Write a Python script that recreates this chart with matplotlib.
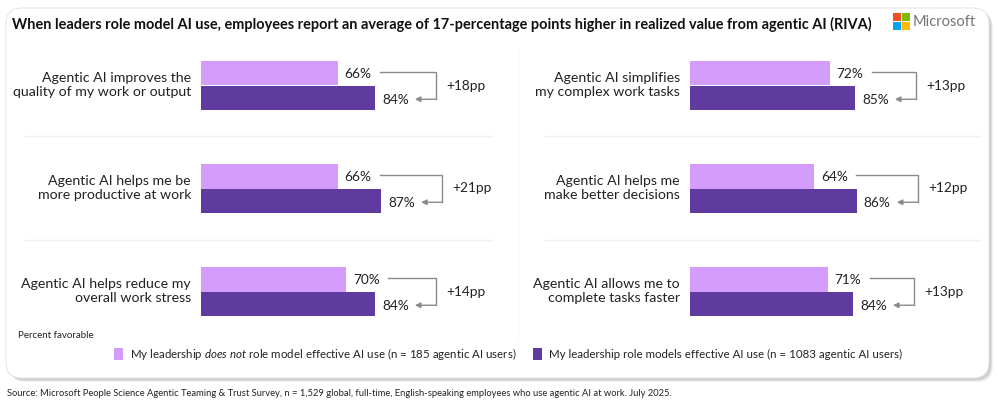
import matplotlib
matplotlib.use("Agg")
import matplotlib.pyplot as plt
from matplotlib.patches import FancyBboxPatch, Rectangle, Patch
from matplotlib.lines import Line2D

FONT = 'Lato'
plt.rcParams['font.family'] = [FONT, 'DejaVu Sans']
plt.rcParams['mathtext.fontset'] = 'custom'
plt.rcParams['mathtext.rm'] = FONT
plt.rcParams['mathtext.it'] = FONT + ':italic'

# ---------------- data ----------------
left_labels = ["Agentic AI improves the\nquality of my work or output",
               "Agentic AI helps me be\nmore productive at work",
               "Agentic AI helps reduce my\noverall work stress"]
left_not = [66, 66, 70]
left_yes = [84, 87, 84]
left_pp = ["+18pp", "+21pp", "+14pp"]
right_labels = ["Agentic AI simplifies\nmy complex work tasks",
                "Agentic AI helps me\nmake better decisions",
                "Agentic AI allows me to\ncomplete tasks faster"]
right_not = [72, 64, 71]
right_yes = [85, 86, 84]
right_pp = ["+13pp", "+12pp", "+13pp"]
series_names = ["My leadership $\\it{does\\ not}$ role model effective AI use (n = 185 agentic AI users)",
                "My leadership role models effective AI use (n = 1083 agentic AI users)"]
title = "When leaders role model AI use, employees report an average of 17-percentage points higher in realized value from agentic AI (RIVA)"
source = ("Source: Microsoft People Science Agentic Teaming & Trust Survey, n = 1,529 global, full-time, "
          "English-speaking employees who use agentic AI at work. July 2025.")

LIGHT = "#D49DFB"
DARK = "#5F3A9F"
GRAY = "#8A8A8A"
TXT = "#222222"

W, H = 999, 408
fig = plt.figure(figsize=(W / 100, H / 100), dpi=100)

def fx(px):
    return px / W

def fy(py):
    return 1 - py / H

# ---------------- card ----------------
for off, a in [(4, 0.10), (3, 0.14), (2, 0.18)]:
    fig.patches.append(FancyBboxPatch((fx(6 + off), fy(378 + off)), fx(983), 370 / H,
                                      boxstyle="round,pad=0,rounding_size=0.016",
                                      transform=fig.transFigure, facecolor="#777777",
                                      edgecolor="none", alpha=a, zorder=-3,
                                      mutation_aspect=W / H))
fig.patches.append(FancyBboxPatch((fx(6), fy(378)), fx(983), 370 / H,
                                  boxstyle="round,pad=0,rounding_size=0.016",
                                  transform=fig.transFigure, facecolor="white",
                                  edgecolor="#E6E6E6", linewidth=0.8, zorder=-2,
                                  mutation_aspect=W / H))

fig.text(fx(12), fy(24), title, fontsize=10.45, fontweight='bold', color="#111111",
         ha='left', va='center')

# Microsoft logo
sq = 8
lx, ly = 893, 13
for (dx, dy, c) in [(0, 0, "#F25022"), (sq + 1, 0, "#7FBA00"), (0, sq + 1, "#00A4EF"), (sq + 1, sq + 1, "#FFB900")]:
    fig.patches.append(Rectangle((fx(lx + dx), fy(ly + dy + sq)), fx(sq), sq / H,
                                 transform=fig.transFigure, facecolor=c, edgecolor='none', zorder=2))
fig.text(fx(913), fy(22), "Microsoft", fontsize=10.5, color="#737373", ha='left', va='center')

# separators
for yy in [136, 240]:
    fig.add_artist(Line2D([fx(25), fx(492)], [fy(yy), fy(yy)], color="#EFEFEF", lw=1.0, zorder=-1))
    fig.add_artist(Line2D([fx(545), fx(980)], [fy(yy), fy(yy)], color="#EFEFEF", lw=1.0, zorder=-1))
fig.add_artist(Line2D([fx(518), fx(518)], [fy(50), fy(340)], color="#EDEDED", lw=0.8,
                      linestyle=(0, (1, 1)), zorder=-1))

# ---------------- panels ----------------
BH = 0.238
ROW_PX = 103.0

def panel(x0px, scale, xmax, labels, vnot, vyes, pps):
    ax = fig.add_axes([fx(x0px), fy(343), fx(xmax * scale), 309 / H])
    ax.set_xlim(0, xmax)
    ax.set_ylim(2.5, -0.5)
    ax.axis('off')
    ax.patch.set_alpha(0)
    ys = list(range(len(labels)))
    ax.barh([y - BH / 2 for y in ys], vnot, height=BH, color=LIGHT, zorder=3)
    ax.barh([y + BH / 2 for y in ys], vyes, height=BH, color=DARK, zorder=3)
    px = 1.0 / scale   # one pixel in data units
    py = 1.0 / ROW_PX
    for y, lab, a, b, pp in zip(ys, labels, vnot, vyes, pps):
        ax.text(-10 * px, y - 0.5 * py, lab, ha='right', va='center', fontsize=10.2, color=TXT,
                linespacing=1.22)
        ax.text(a + 7 * px, y - BH / 2 + 1 * py, f"{a}%", ha='left', va='center',
                fontsize=9.8, color=TXT)
        ax.text(b + 7 * px, y + BH / 2 + 2 * py, f"{b}%", ha='left', va='center',
                fontsize=9.8, color=TXT)
        xb = b + 61 * px
        y1 = y - BH / 2 - 1 * py
        y2 = y + BH / 2 + 1.5 * py
        ax.plot([a + 42 * px, xb, xb], [y1, y1, y2], color=GRAY, lw=1.0, zorder=4,
                solid_joinstyle='miter')
        ax.annotate("", xy=(b + 40 * px, y2), xytext=(xb + 0.5 * px, y2),
                    arrowprops=dict(arrowstyle='-|>', color=GRAY, lw=1.0,
                                    mutation_scale=8, shrinkA=0, shrinkB=0), zorder=4)
        ax.text(xb + 10 * px, y, pp, ha='left', va='center', fontsize=9.8,
                color=TXT)
    return ax

panel(201, 2.07, 125, left_labels, left_not, left_yes, left_pp)
panel(690, 1.94, 140, right_labels, right_not, right_yes, right_pp)

fig.text(fx(18), fy(336), "Percent favorable", fontsize=7, color=TXT, ha='left', va='center')

# legend
handles = [Patch(facecolor=LIGHT, edgecolor='none'), Patch(facecolor=DARK, edgecolor='none')]
leg = fig.legend(handles, series_names, loc='center left', bbox_to_anchor=(fx(114), fy(354)),
                 ncol=2, frameon=False, fontsize=8.25, handlelength=0.8, handleheight=1.2,
                 handletextpad=0.6, columnspacing=1.4, borderaxespad=0, borderpad=0)
for t in leg.get_texts():
    t.set_color(TXT)

fig.text(fx(7), fy(394), source, fontsize=6.75, color=TXT, ha='left', va='center')

fig.savefig("out.png", dpi=100, facecolor='white')
